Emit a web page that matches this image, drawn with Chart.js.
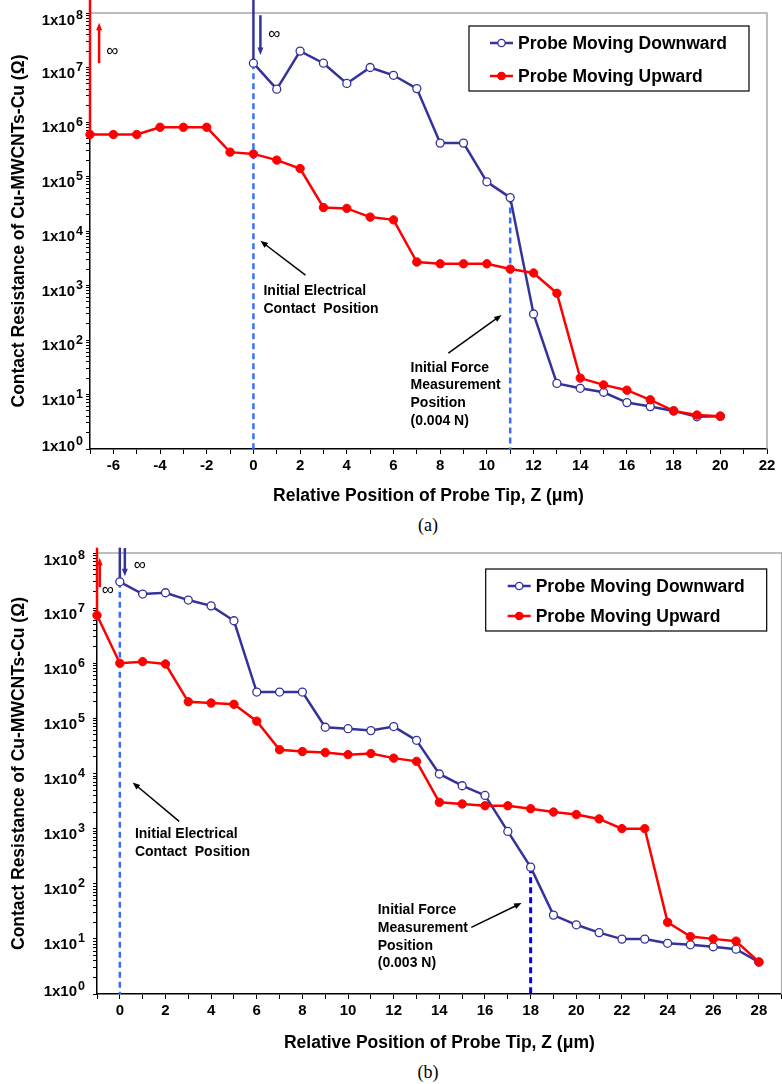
<!DOCTYPE html>
<html>
<head>
<meta charset="utf-8">
<script src="https://cdn.jsdelivr.net/npm/chart.js@4.4.1/dist/chart.umd.min.js"></script>
<style>
  body { margin: 0; background: #fff; }
  #page { position: relative; width: 782px; height: 1084px; overflow: hidden; }
  canvas { position: absolute; left: 0; }
  .cap { position: absolute; left: 378px; width: 100px; text-align: center;
         font: 18px "Liberation Serif", "Times New Roman", serif; line-height: 20px; color: #000; }
</style>
</head>
<body>
<div id="page">
  <canvas id="chartA" width="782" height="510" style="top:0"></canvas>
  <div class="cap" style="top:515px">(a)</div>
  <!-- a few px wider than the page: Chart.js keeps a small right margin, the plot must run to the edge -->
  <canvas id="chartB" width="787" height="522" style="top:536px"></canvas>
  <div class="cap" style="top:1062px">(b)</div>
</div>
<script>
// Panel (a): probe tip position Z (um) and contact resistance (ohm)
const zDownA = [0, 1, 2, 3, 4, 5, 6, 7, 8, 9, 10, 11, 12, 13, 14, 15, 16, 17, 18, 19, 20];
const rDownA = [1.2e7, 4.0e6, 2.0e7, 1.2e7, 5.1e6, 1.0e7, 7.2e6, 4.1e6, 4.1e5, 4.1e5, 8.0e4,
                4.1e4, 3.0e2, 16, 13, 11, 7.1, 6.0, 5.0, 3.9, 4.0];
const zUpA = [-7, -6, -5, -4, -3, -2, -1, 0, 1, 2, 3, 4, 5, 6, 7, 8, 9, 10, 11, 12, 13, 14, 15, 16, 17, 18, 19, 20];
const rUpA = [5.9e5, 5.9e5, 5.9e5, 8.0e5, 8.0e5, 8.0e5, 2.8e5, 2.6e5, 2.0e5, 1.4e5, 2.7e4, 2.6e4, 1.8e4, 1.6e4,
              2.7e3, 2.5e3, 2.5e3, 2.5e3, 2.0e3, 1.7e3, 7.2e2, 20, 15, 12, 8.0, 5.0, 4.2, 4.0];

// Panel (b)
const zDownB = [0, 1, 2, 3, 4, 5, 6, 7, 8, 9, 10, 11, 12, 13, 14, 15, 16, 17, 18, 19, 20, 21, 22, 23, 24, 25, 26, 27, 28];
const rDownB = [3.0e7, 1.8e7, 1.9e7, 1.4e7, 1.1e7, 5.9e6, 3.0e5, 3.0e5, 3.0e5, 6.9e4, 6.5e4, 6.0e4, 7.1e4, 4.0e4,
                9.8e3, 6.0e3, 4.0e3, 8.9e2, 2.0e2, 27, 18, 13, 9.9, 9.9, 8.3, 7.8, 7.2, 6.5, 3.8];
const zUpB = [-1, 0, 1, 2, 3, 4, 5, 6, 7, 8, 9, 10, 11, 12, 13, 14, 15, 16, 17, 18, 19, 20, 21, 22, 23, 24, 25, 26, 27, 28];
const rUpB = [7.4e6, 1.0e6, 1.07e6, 9.7e5, 2.0e5, 1.9e5, 1.8e5, 8.9e4, 2.7e4, 2.5e4, 2.4e4, 2.2e4, 2.3e4, 1.9e4, 1.66e4,
              3.0e3, 2.8e3, 2.6e3, 2.6e3, 2.3e3, 2.0e3, 1.8e3, 1.5e3, 1.0e3, 1.0e3, 20, 11, 10, 9.1, 3.8];

// axis ticks
const xTicksA = [-7, -6, -5, -4, -3, -2, -1, 0, 1, 2, 3, 4, 5, 6, 7, 8, 9, 10, 11, 12, 13, 14, 15, 16, 17, 18, 19, 20, 21, 22];
const xTicksB = [-1, 0, 1, 2, 3, 4, 5, 6, 7, 8, 9, 10, 11, 12, 13, 14, 15, 16, 17, 18, 19, 20, 21, 22, 23, 24, 25, 26, 27, 28, 29];
const yTickBase = '1x10';
const yTickExponents = ['0', '1', '2', '3', '4', '5', '6', '7', '8'];
const yTickValues = [];
for (let e = 0; e < 8; e++) for (let m = 1; m < 10; m++) yTickValues.push(m * Math.pow(10, e));
yTickValues.push(1e8);

const FONT = '"Liberation Sans", Arial, Helvetica, sans-serif';
const BLUE = '#333399';
const RED = '#ff0000';
const GUIDE = '#3b6cff';

function pairs(zs, rs) {
  return zs.map((z, i) => ({x: z, y: rs[i]}));
}

function drawArrow(ctx, x1, y1, x2, y2, color, width, head) {
  const ang = Math.atan2(y2 - y1, x2 - x1);
  ctx.strokeStyle = color;
  ctx.fillStyle = color;
  ctx.lineWidth = width;
  ctx.beginPath();
  ctx.moveTo(x1, y1);
  ctx.lineTo(x2 - Math.cos(ang) * head * 0.7, y2 - Math.sin(ang) * head * 0.7);
  ctx.stroke();
  ctx.beginPath();
  ctx.moveTo(x2, y2);
  ctx.lineTo(x2 - head * Math.cos(ang - 0.38), y2 - head * Math.sin(ang - 0.38));
  ctx.lineTo(x2 - head * Math.cos(ang + 0.38), y2 - head * Math.sin(ang + 0.38));
  ctx.closePath();
  ctx.fill();
}

// plot frame, y labels with superscripts, arrows, notes and the boxed legend
const overlay = {
  id: 'overlay',
  beforeDatasetsDraw(chart) {
    const {ctx, chartArea: a} = chart;
    ctx.save();
    ctx.strokeStyle = '#a8a8a8';
    ctx.lineWidth = 1.5;
    ctx.beginPath();
    ctx.moveTo(a.left, a.top);
    ctx.lineTo(a.right, a.top);
    ctx.lineTo(a.right, a.bottom);
    ctx.stroke();
    ctx.restore();
  },
  afterDatasetsDraw(chart, args, o) {
    const {ctx, chartArea: a, scales: {x, y}} = chart;
    const px = v => x.getPixelForValue(v);
    const py = v => y.getPixelForValue(v);
    ctx.save();

    // y tick labels: 1x10 with raised exponent
    ctx.fillStyle = '#000';
    ctx.textBaseline = 'alphabetic';
    const right = a.left - 4 - o.yTickPad;
    yTickExponents.forEach((ex, e) => {
      const shift = e === 0 ? -3 : (e === yTickExponents.length - 1 ? 7 : 5);
      const ty = py(Math.pow(10, e)) + shift;
      ctx.font = 'bold 12.5px ' + FONT;
      const sw = ctx.measureText(ex).width;
      ctx.textAlign = 'left';
      ctx.fillText(ex, right - sw, ty - 1.5);
      ctx.font = 'bold 15px ' + FONT;
      ctx.textAlign = 'right';
      ctx.fillText(yTickBase, right - sw - 1, ty + 5.4);
    });

    o.arrows.forEach(ar => drawArrow(ctx, px(ar.from[0]), py(ar.from[1]), px(ar.to[0]), py(ar.to[1]),
                                     ar.color, ar.width, ar.head));
    ctx.fillStyle = '#000';
    ctx.textBaseline = 'middle';
    o.notes.forEach(n => {
      ctx.font = n.font;
      ctx.textAlign = n.align || 'left';
      n.lines.forEach((t, i) => ctx.fillText(t, px(n.at[0]), py(n.at[1]) + i * (n.gap || 0)));
    });

    // legend
    const lg = o.legend;
    const bx = a.right - lg.right - lg.w;
    const by = a.top + lg.top;
    ctx.strokeStyle = '#000';
    ctx.lineWidth = 1.2;
    ctx.strokeRect(bx, by, lg.w, lg.h);
    [chart.data.datasets[1], chart.data.datasets[0]].forEach((ds, i) => {
      const cy = by + lg.firstRow + i * lg.rowGap;
      const sx = bx + lg.sampleX;
      ctx.strokeStyle = ds.borderColor;
      ctx.lineWidth = 2.5;
      ctx.beginPath();
      ctx.moveTo(sx, cy);
      ctx.lineTo(sx + 23, cy);
      ctx.stroke();
      ctx.beginPath();
      ctx.arc(sx + 11.5, cy, 3.7, 0, Math.PI * 2);
      ctx.fillStyle = ds.pointBackgroundColor;
      ctx.fill();
      ctx.lineWidth = 1.3;
      ctx.strokeStyle = ds.pointBorderColor;
      ctx.stroke();
      ctx.fillStyle = '#000';
      ctx.font = 'bold 17.5px ' + FONT;
      ctx.textAlign = 'left';
      ctx.fillText(ds.label, sx + 28, cy + 1);
    });
    ctx.restore();
  }
};
Chart.register(overlay);

function makeChart(id, p) {
  const guides = p.guides.map(g => ({
    data: [{x: p.zDown[g.i], y: p.rDown[g.i]}, {x: p.zDown[g.i], y: 1}],
    borderColor: g.color, borderWidth: g.width, borderDash: [6, 4],
    pointRadius: 0, clip: false
  }));
  return new Chart(document.getElementById(id), {
    type: 'line',
    data: {
      datasets: [
        {
          label: 'Probe Moving Upward', data: pairs(p.zUp, p.rUp),
          borderColor: RED, backgroundColor: RED, borderWidth: 2.5,
          pointRadius: 4.2, pointBackgroundColor: RED, pointBorderColor: RED, pointBorderWidth: 1,
          clip: false
        },
        {
          label: 'Probe Moving Downward', data: pairs(p.zDown, p.rDown),
          borderColor: BLUE, backgroundColor: BLUE, borderWidth: 2.5,
          pointRadius: 4, pointBackgroundColor: '#fff', pointBorderColor: BLUE, pointBorderWidth: 1.3,
          clip: false
        },
        // open circuit (infinite resistance) before first contact
        {
          data: [{x: p.zUp[0], y: p.rUp[0]}, {x: p.zUp[0], y: p.infTop}],
          borderColor: RED, borderWidth: 2.5, pointRadius: 0, clip: false
        },
        {
          data: [{x: p.zDown[0], y: p.rDown[0]}, {x: p.zDown[0], y: p.infTop}],
          borderColor: BLUE, borderWidth: 2.5, pointRadius: 0, clip: false
        },
        ...guides
      ]
    },
    options: {
      responsive: false,
      animation: false,
      events: [],
      layout: {padding: p.padding},
      plugins: {
        legend: {display: false},
        tooltip: {enabled: false},
        overlay: Object.assign({yTickPad: p.yTickPad}, p.overlay)
      },
      scales: {
        x: {
          type: 'linear', min: p.xMin, max: p.xMax,
          afterFit: s => { s.height = p.xAxisHeight; },
          afterBuildTicks: s => { s.ticks = p.xTicks.map(v => ({value: v})); },
          ticks: {
            autoSkip: false, maxRotation: 0, padding: 3, color: '#000',
            font: {family: FONT, weight: 'bold', size: 15},
            callback: v => (v % 2 === 0 ? String(v) : '')
          },
          grid: {drawOnChartArea: false, drawTicks: true, tickLength: 5, color: '#000'},
          border: {color: '#000', width: 1.5},
          title: {
            display: true, text: 'Relative Position of Probe Tip, Z (μm)', color: '#000',
            font: {family: FONT, weight: 'bold', size: 17.5}, padding: {top: 0, bottom: p.xTitlePad}
          }
        },
        y: {
          type: 'logarithmic', min: 1, max: 1e8,
          afterFit: s => { s.width = p.yAxisWidth; },
          afterBuildTicks: s => { s.ticks = yTickValues.map(v => ({value: v})); },
          ticks: {
            autoSkip: false, padding: p.yTickPad, color: '#000',
            font: {family: FONT, weight: 'bold', size: 15},
            callback: () => ''   // labels drawn by the overlay (superscript exponents)
          },
          grid: {drawOnChartArea: false, drawTicks: true, tickLength: 4, color: '#000'},
          border: {color: '#000', width: 1.5},
          title: {
            display: true, text: 'Contact Resistance of Cu-MWCNTs-Cu (Ω)', color: '#000',
            font: {family: FONT, weight: 'bold', size: 17.5}, padding: {top: 9, bottom: 0}
          }
        }
      }
    }
  });
}

const noteFont = 'bold 14px ' + FONT;
const infFont = '17px ' + FONT;

makeChart('chartA', {
  zDown: zDownA, rDown: rDownA, zUp: zUpA, rUp: rUpA,
  xMin: -7, xMax: 22, xTicks: xTicksA, infTop: 2e8,
  padding: {top: 13, right: 15, bottom: 0, left: 0},
  xAxisHeight: 61, yAxisWidth: 90, yTickPad: 3, xTitlePad: 3.5,
  guides: [{i: 0, color: GUIDE, width: 2.5}, {i: 11, color: GUIDE, width: 2.5}],
  overlay: {
    arrows: [
      {from: [-6.61, 1.2e7], to: [-6.61, 6.6e7], color: RED, width: 2.5, head: 8},
      {from: [0.3, 9.1e7], to: [0.3, 1.7e7], color: BLUE, width: 2.5, head: 8},
      {from: [2.23, 1.55e3], to: [0.3, 6.6e3], color: '#000', width: 1.5, head: 8},
      {from: [8.35, 57.5], to: [10.63, 288], color: '#000', width: 1.5, head: 8}
    ],
    notes: [
      {at: [-6.04, 2.0e7], lines: ['∞'], font: infFont, align: 'center'},
      {at: [0.9, 4.1e7], lines: ['∞'], font: infFont, align: 'center'},
      {at: [0.43, 7.9e2], lines: ['Initial Electrical', 'Contact  Position'], font: noteFont, gap: 18},
      {at: [6.73, 30.6], lines: ['Initial Force', 'Measurement', 'Position', '(0.004 N)'], font: noteFont, gap: 17.6}
    ],
    legend: {w: 280, h: 65, right: 18, top: 13, sampleX: 21, firstRow: 17, rowGap: 33}
  }
});

makeChart('chartB', {
  zDown: zDownB, rDown: rDownB, zUp: zUpB, rUp: rUpB,
  xMin: -1, xMax: 29, xTicks: xTicksB, infTop: 1.25e8,
  padding: {top: 16, right: 0, bottom: 0, left: 0},
  xAxisHeight: 64, yAxisWidth: 97, yTickPad: 8, xTitlePad: 4.5,
  guides: [{i: 0, color: GUIDE, width: 2.5}, {i: 18, color: '#0000ee', width: 3}],
  overlay: {
    arrows: [
      {from: [-0.88, 2.4e7], to: [-0.88, 8.1e7], color: RED, width: 2.5, head: 8},
      {from: [0.22, 1.23e8], to: [0.22, 3.8e7], color: BLUE, width: 2.5, head: 8},
      {from: [2.6, 1.35e3], to: [0.56, 6.9e3], color: '#000', width: 1.5, head: 8},
      {from: [15.4, 16.2], to: [17.6, 44.7], color: '#000', width: 1.5, head: 8}
    ],
    notes: [
      {at: [-0.53, 2.1e7], lines: ['∞'], font: infFont, align: 'center'},
      {at: [0.88, 6.0e7], lines: ['∞'], font: infFont, align: 'center'},
      {at: [0.66, 8.1e2], lines: ['Initial Electrical', 'Contact  Position'], font: noteFont, gap: 18},
      {at: [11.3, 33], lines: ['Initial Force', 'Measurement', 'Position', '(0.003 N)'], font: noteFont, gap: 17.7}
    ],
    legend: {w: 281, h: 62, right: 15, top: 16, sampleX: 22, firstRow: 17, rowGap: 30}
  }
});
</script>
</body>
</html>
